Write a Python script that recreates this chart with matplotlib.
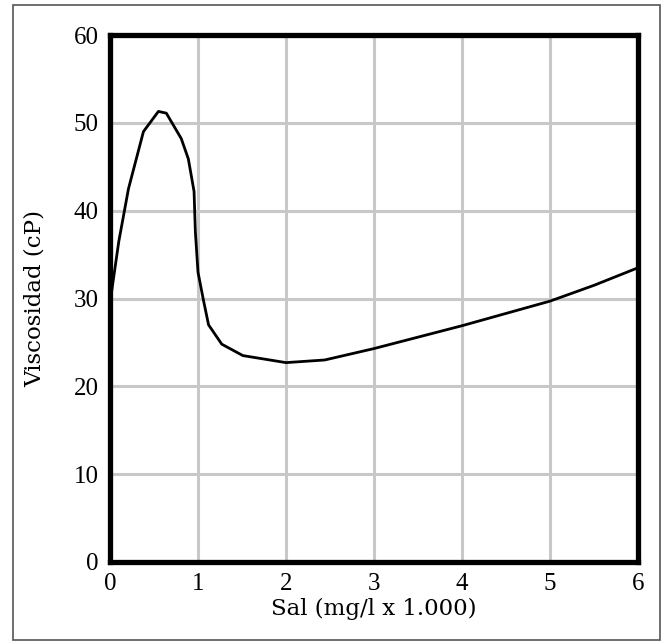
import matplotlib
matplotlib.use("Agg")
from matplotlib import pyplot as plt
from matplotlib.patches import Rectangle

# curve
sal = [0.0, 0.1, 0.21, 0.38, 0.55, 0.64, 0.81, 0.89, 0.955, 0.97, 1.0, 1.06, 1.12,
       1.27, 1.51, 2.0, 2.44, 3.0, 4.0, 5.0, 5.5, 6.0]
visc = [29.5, 36.5, 42.5, 49.0, 51.3, 51.1, 48.2, 45.9, 42.2, 37.6, 33.0, 29.9, 27.0,
        24.8, 23.5, 22.7, 23.0, 24.3, 26.9, 29.7, 31.5, 33.5]

x_ticks = [0, 1, 2, 3, 4, 5, 6]
y_ticks = [0, 10, 20, 30, 40, 50, 60]

plt.rcParams['font.family'] = ['Liberation Serif', 'DejaVu Serif']

fig = plt.figure(figsize=(6.62, 6.41), dpi=100)
ax = fig.add_axes([110/662, 1 - 562/641, 528/662, 527/641])

# outer frame
fig.patches.append(Rectangle((13/662, 1/641), 647/662, 635/641, transform=fig.transFigure,
                             fill=False, edgecolor='#555555', linewidth=1.2))

ax.plot(sal, visc, color='black', linewidth=2.0, solid_joinstyle='round', zorder=3)

ax.set_xlim(0, 6)
ax.set_ylim(0, 60)
ax.set_xticks(x_ticks)
ax.set_yticks(y_ticks)
ax.grid(True, color='#c8c8c8', linewidth=2.2)
ax.set_axisbelow(True)
for s in ax.spines.values():
    s.set_linewidth(3.8)
    s.set_zorder(4)
ax.tick_params(length=0, labelsize=18, pad=8)

ax.set_xlabel('Sal (mg/l x 1.000)', fontsize=16.5, family='DejaVu Serif', labelpad=2)
ax.set_ylabel('Viscosidad (cP)', fontsize=16.5, family='DejaVu Serif', labelpad=20)

fig.savefig('out.png', dpi=100)
